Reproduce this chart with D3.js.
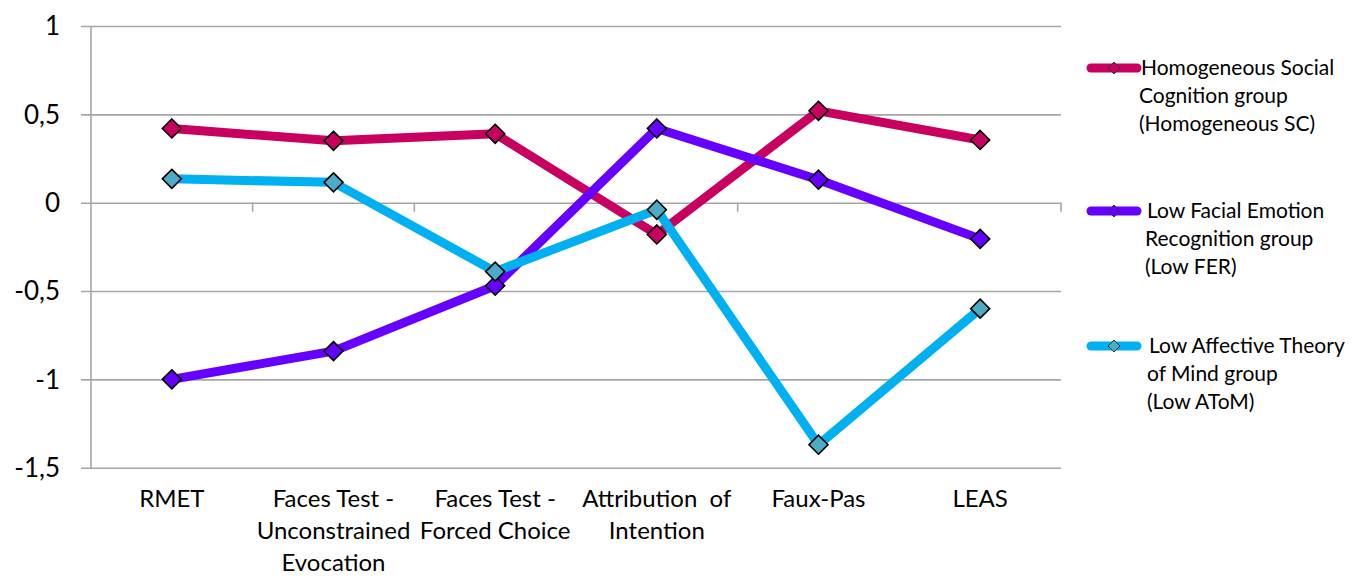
<!DOCTYPE html>
<html>
<head>
<meta charset="utf-8">
<script src="https://cdn.jsdelivr.net/npm/d3@7/dist/d3.min.js"></script>
<style>
  html, body { margin: 0; padding: 0; background: #fff; }
  svg { display: block; font-family: Lato, "Open Sans", sans-serif; }
</style>
</head>
<body>
<svg id="chart" width="1361" height="577"></svg>
<script>
// Test categories (each entry is the list of wrapped label lines)
const categories = ["RMET", "Faces Test - Unconstrained Evocation", "Faces Test - Forced Choice", "Attribution  of Intention", "Faux-Pas", "LEAS"];
const categoryLines = [
  ["RMET"],
  ["Faces Test -", "Unconstrained", "Evocation"],
  ["Faces Test -", "Forced Choice"],
  ["Attribution  of", "Intention"],
  ["Faux-Pas"],
  ["LEAS"]
];

// Mean z-scores per group
const homogeneousSC = [0.42, 0.35, 0.39, -0.18, 0.52, 0.355];
const lowFER = [-1.0, -0.84, -0.47, 0.42, 0.13, -0.205];
const lowAToM = [0.135, 0.115, -0.39, -0.04, -1.37, -0.60];

const yTicks = [1, 0.5, 0, -0.5, -1, -1.5];

const seriesNames = [
  ["Homogeneous Social", "Cognition group", "(Homogeneous SC)"],
  ["Low Facial Emotion", "Recognition group", "(Low FER)"],
  ["Low Affective Theory", "of Mind group", "(Low AToM)"]
];

const series = [
  { values: homogeneousSC, line: "#c8005f", marker: "#c8005f", legend: seriesNames[0] },
  { values: lowFER, line: "#6600ff", marker: "#6600ff", legend: seriesNames[1] },
  { values: lowAToM, line: "#00b0f0", marker: "#4bacc6", legend: seriesNames[2] }
];

const svg = d3.select("#chart");
const plot = { left: 91, right: 1061, top: 26, bottom: 467.7 };

const x = d3.scaleBand().domain(categories).range([plot.left, plot.right]).padding(0);
const y = d3.scaleLinear().domain([-1.5, 1]).range([plot.bottom, plot.top]);

const gridColor = "#a6a6a6";

// Decimal comma and plain hyphen for negatives
const fmt = d => String(d).replace(".", ",");

// Horizontal gridlines with outside tick stubs
const yAxis = d3.axisLeft(y)
  .tickValues(yTicks)
  .tickSize(-(plot.right - plot.left))
  .tickSizeOuter(0)
  .tickFormat(fmt);
const gy = svg.append("g").attr("transform", `translate(${plot.left},0)`).call(yAxis);
gy.select(".domain").remove();
gy.selectAll(".tick line").attr("stroke", gridColor).attr("stroke-width", 1.6).attr("x1", -10);
gy.selectAll(".tick text")
  .attr("x", -31)
  .attr("dy", "0.34em")
  .attr("fill", "#000")
  .style("font-size", "26px")
  .style("font-family", "Lato, 'Open Sans', sans-serif");

// Vertical value axis line
svg.append("line")
  .attr("x1", plot.left).attr("x2", plot.left)
  .attr("y1", plot.top).attr("y2", plot.bottom)
  .attr("stroke", gridColor).attr("stroke-width", 1.6);

// Category axis crossing at zero, with tick marks at category boundaries
const boundaries = categories.map(c => x(c)).concat([plot.right]).slice(1);
svg.append("g").selectAll("line").data(boundaries).join("line")
  .attr("x1", d => d).attr("x2", d => d)
  .attr("y1", y(0)).attr("y2", y(0) + 9)
  .attr("stroke", gridColor).attr("stroke-width", 1.6);

// Category labels below the plot
const labels = svg.append("g");
categories.forEach((c, i) => {
  const cx = x(c) + x.bandwidth() / 2;
  const t = labels.append("text")
    .attr("x", cx)
    .attr("y", 507)
    .attr("text-anchor", "middle")
    .attr("fill", "#000")
    .style("font-size", "24px")
    .style("white-space", "pre");
  categoryLines[i].forEach((ln, j) => {
    t.append("tspan").attr("x", cx).attr("dy", j === 0 ? 0 : 32).text(ln);
  });
});

// Series lines
const line = d3.line()
  .x((d, i) => x(categories[i]) + x.bandwidth() / 2)
  .y(d => y(d));

series.forEach(s => {
  svg.append("path")
    .datum(s.values)
    .attr("d", line)
    .attr("fill", "none")
    .attr("stroke", s.line)
    .attr("stroke-width", 9)
    .attr("stroke-linejoin", "round");
});

// Diamond markers
const diamond = r => `M0,${-r}L${r},0L0,${r}L${-r},0Z`;
series.forEach(s => {
  svg.append("g").selectAll("path").data(s.values).join("path")
    .attr("transform", (d, i) => `translate(${x(categories[i]) + x.bandwidth() / 2},${y(d)})`)
    .attr("d", diamond(9.5))
    .attr("fill", s.marker)
    .attr("stroke", "#000")
    .attr("stroke-width", 1.6);
});

// Legend
const legendRows = [68, 211, 346];
const legendTextX = [1141, 1147, 1149];
series.forEach((s, i) => {
  const g = svg.append("g").attr("transform", `translate(0,${legendRows[i]})`);
  g.append("line")
    .attr("x1", 1091).attr("x2", 1137).attr("y1", 0).attr("y2", 0)
    .attr("stroke", s.line).attr("stroke-width", 9).attr("stroke-linecap", "round");
  g.append("path")
    .attr("transform", "translate(1114,0)")
    .attr("d", diamond(6))
    .attr("fill", s.marker)
    .attr("stroke", "#333")
    .attr("stroke-width", 1);
  const t = g.append("text")
    .attr("x", legendTextX[i])
    .attr("y", 7)
    .attr("fill", "#000")
    .style("font-size", "21px");
  s.legend.forEach((ln, j) => {
    t.append("tspan").attr("x", legendTextX[i] + (j === 0 ? 0 : -2)).attr("dy", j === 0 ? 0 : 28).text(ln);
  });
});
</script>
</body>
</html>
